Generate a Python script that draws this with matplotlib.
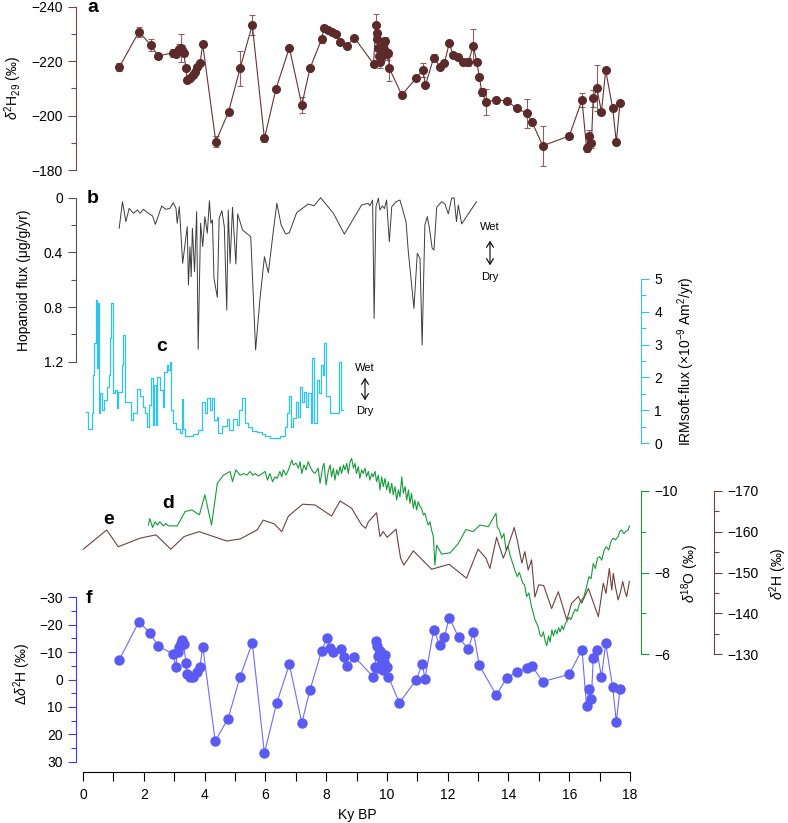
import matplotlib
matplotlib.use('Agg')
from matplotlib import pyplot as plt

W, H = 788, 823

# (a) leaf wax dD, Ky BP / permil / error
a_age = [1.19, 1.84, 2.23, 2.48, 2.97, 3.05, 3.11, 3.17, 3.22, 3.27, 3.31, 3.39, 3.43, 3.52, 3.61,
         3.69, 3.76, 3.85, 3.94, 4.37, 4.79, 5.17, 5.57, 5.97, 6.35, 6.79, 7.20, 7.47, 7.85, 7.93,
         8.07, 8.18, 8.34, 8.46, 8.68, 8.93, 9.56, 9.64, 9.66, 9.68, 9.71, 9.74, 9.77, 9.83, 9.87,
         9.90, 9.94, 9.99, 10.05, 10.08, 10.49, 10.96, 11.18, 11.27, 11.54, 11.75, 11.89, 12.05,
         12.18, 12.35, 12.51, 12.68, 12.84, 12.96, 13.04, 13.12, 13.26, 13.60, 13.94, 14.27, 14.61,
         14.78, 15.13, 16.00, 16.42, 16.57, 16.64, 16.73, 16.79, 16.91, 17.06, 17.20, 17.43, 17.55,
         17.67]
a_val = [-217.7, -230.8, -225.9, -221.9, -223.1, -222.5, -223.8, -224.3, -224.8, -224.1, -223.0,
         -217.4, -213.1, -213.9, -214.9, -216.1, -218.0, -219.2, -226.2, -190.4, -201.4, -217.4,
         -233.3, -191.6, -209.8, -224.9, -203.9, -217.4, -228.0, -232.1, -231.4, -230.8, -230.0,
         -227.1, -225.6, -228.6, -219.0, -233.3, -230.5, -228.0, -225.0, -221.8, -219.5, -222.0,
         -226.0, -224.5, -227.5, -222.5, -223.0, -217.4, -207.6, -213.7, -216.7, -211.2, -221.3,
         -218.0, -219.2, -226.5, -222.3, -221.4, -219.6, -219.6, -225.7, -219.7, -214.3, -208.8,
         -205.1, -205.7, -205.4, -202.7, -200.8, -197.5, -188.9, -192.5, -205.7, -188.2, -192.6,
         -190.0, -206.3, -210.0, -201.4, -216.6, -202.7, -190.2, -204.6]
a_err = [1.5, 1.8, 2.2, 1.0, 1.5, 1.0, 1.0, 2.0, 5.0, 2.0, 1.0, 1.2, 1.2, 1.0, 1.0, 1.0, 1.0, 1.0,
         0.6, 2.0, 0.6, 6.5, 3.8, 1.2, 0.5, 0.5, 3.0, 0.5, 1.2, 1.0, 0.8, 0.8, 0.8, 0.8, 0.5, 0.5,
         1.2, 4.0, 2.0, 3.0, 5.5, 3.0, 2.0, 2.0, 2.5, 2.0, 1.5, 2.0, 1.0, 4.6, 1.0, 0.5, 2.6, 0.8,
         1.2, 0.6, 0.6, 1.0, 0.5, 1.0, 1.0, 1.5, 6.0, 1.0, 1.0, 1.5, 4.8, 1.0, 0.5, 0.5, 5.2, 1.0,
         7.4, 1.0, 2.5, 1.5, 2.0, 2.0, 3.0, 8.4, 1.0, 0.8, 0.5, 1.0, 0.5]

# (b) hopanoid flux
b_age = [1.19, 1.30, 1.41, 1.52, 1.66, 1.79, 1.88, 1.99, 2.15, 2.29, 2.38, 2.59, 2.72, 2.86, 2.97,
         3.06, 3.10, 3.17, 3.28, 3.43, 3.47, 3.52, 3.56, 3.60, 3.67, 3.74, 3.79, 3.87, 3.94, 4.01,
         4.09, 4.16, 4.21, 4.26, 4.31, 4.42, 4.48, 4.57, 4.65, 4.73, 4.78, 4.84, 4.92, 5.03, 5.09,
         5.25, 5.52, 5.68, 5.82, 5.97, 6.10, 6.26, 6.38, 6.52, 6.67, 6.79, 7.03, 7.41, 7.60, 7.82,
         8.24, 8.60, 9.17, 9.39, 9.44, 9.53, 9.58, 9.64, 9.72, 9.77, 9.85, 9.92, 9.99, 10.08, 10.16,
         10.30, 10.43, 10.63, 10.70, 10.89, 11.00, 11.09, 11.16, 11.25, 11.33, 11.40, 11.49, 11.55,
         11.64, 11.80, 11.91, 12.02, 12.13, 12.21, 12.29, 12.35, 12.46, 12.95]
b_val = [0.224, 0.029, 0.175, 0.078, 0.114, 0.09, 0.114, 0.085, 0.114, 0.134, 0.195, 0.061, 0.085,
         0.078, 0.037, 0.078, 0.187, 0.066, 0.48, 0.212, 0.639, 0.358, 0.578, 0.224, 0.541, 0.102,
         1.109, 0.187, 0.358, 0.139, 0.26, 0.022, 0.187, 0.163, 0.59, 0.729, 0.151, 0.095, 0.212,
         0.822, 0.09, 0.48, 0.07, 0.485, 0.119, 0.236, 0.285, 1.114, 0.749, 0.432, 0.549, 0.249,
         0.041, 0.2, 0.266, 0.256, 0.11, 0.046, 0.059, 0.0, 0.114, 0.266, 0.053, 0.041, 0.059,
         0.017, 0.883, 0.066, 0.004, 0.09, 0.06, 0.08, 0.017, 0.322, 0.066, 0.03, 0.017, 0.175,
         0.383, 0.81, 0.407, 0.444, 1.078, 0.2, 0.139, 0.224, 0.37, 0.383, 0.07, 0.029, 0.046,
         0.119, 0.004, 0.0, 0.175, 0.053, 0.192, 0.029]

# (c) IRMsoft flux (steps)
c_age = [0.10, 0.175, 0.285, 0.318, 0.373, 0.428, 0.47, 0.504, 0.53, 0.559, 0.614, 0.691, 0.779,
         0.866, 0.89, 0.921, 0.998, 1.053, 1.108, 1.163, 1.272, 1.327, 1.382, 1.579, 1.656, 1.766,
         1.876, 1.985, 2.04, 2.095, 2.172, 2.238, 2.293, 2.348, 2.402, 2.446, 2.534, 2.622, 2.677,
         2.753, 2.808, 2.863, 2.885, 2.972, 3.06, 3.192, 3.247, 3.302, 3.356, 3.631, 3.795, 3.927,
         4.014, 4.069, 4.179, 4.233, 4.31, 4.398, 4.453, 4.562, 4.727, 4.815, 4.947, 5.056, 5.144,
         5.221, 5.331, 5.44, 5.55, 5.715, 5.88, 5.989, 6.153, 6.482, 6.647, 6.723, 6.778, 6.833,
         6.921, 7.009, 7.064, 7.141, 7.195, 7.272, 7.327, 7.415, 7.492, 7.546, 7.612, 7.689, 7.777,
         7.832, 7.887, 7.941, 7.996, 8.128, 8.435, 8.48, 8.567]
c_val = [0.95, 0.42, 0.90, 2.07, 3.04, 4.36, 2.29, 4.27, 0.90, 1.52, 1.00, 1.31, 1.72, 2.07, 3.20,
         4.27, 1.52, 1.62, 1.06, 1.57, 2.38, 3.30, 1.26, 0.70, 0.90, 1.64, 1.42, 1.11, 0.90, 0.50,
         1.16, 1.97, 0.55, 1.77, 0.55, 2.02, 1.62, 1.11, 2.17, 2.38, 2.22, 2.48, 1.01, 0.60, 0.42,
         0.30, 1.34, 0.42, 0.20, 0.26, 0.40, 1.26, 0.90, 1.36, 1.00, 1.36, 0.70, 0.78, 0.30, 0.52,
         0.72, 0.40, 0.72, 0.55, 1.00, 1.36, 0.60, 0.50, 0.36, 0.33, 0.26, 0.20, 0.15, 0.20, 0.48,
         0.90, 1.42, 0.50, 0.76, 1.26, 0.80, 1.72, 1.26, 1.57, 1.11, 1.52, 0.60, 2.58, 0.60, 1.92,
         1.52, 2.38, 2.07, 3.04, 1.42, 0.90, 2.48, 1.00, 1.00]

# (d) speleothem d18O
d_age = [2.15, 2.20, 2.29, 2.37, 2.45, 2.53, 2.64, 2.73, 2.81, 3.10, 3.36, 3.58, 3.83, 4.01, 4.23,
         4.42, 4.62, 4.84, 4.92, 5.03, 5.17, 5.30, 5.39, 5.50, 5.58, 5.66, 5.77, 5.88, 5.99, 6.07,
         6.15, 6.24, 6.32, 6.39, 6.48, 6.54, 6.59, 6.68, 6.76, 6.87, 6.92, 7.01, 7.09, 7.14, 7.20,
         7.27, 7.34, 7.41, 7.47, 7.56, 7.63, 7.74, 7.80, 7.89, 7.93, 8.00, 8.07, 8.13, 8.18, 8.24,
         8.29, 8.35, 8.40, 8.46, 8.51, 8.57, 8.62, 8.68, 8.73, 8.79, 8.84, 8.90, 8.95, 9.00, 9.06,
         9.11, 9.17, 9.22, 9.28, 9.33, 9.39, 9.44, 9.50, 9.55, 9.61, 9.66, 9.72, 9.77, 9.83, 9.88,
         9.94, 9.99, 10.05, 10.10, 10.16, 10.21, 10.27, 10.32, 10.38, 10.43, 10.49, 10.54, 10.60,
         10.65, 10.71, 10.76, 10.81, 10.87, 10.92, 10.98, 11.03, 11.09, 11.14, 11.20, 11.25, 11.31,
         11.36, 11.42, 11.47, 11.53, 11.58, 11.64, 11.80, 12.08, 12.35, 12.60, 12.84, 13.06, 13.34,
         13.59, 13.63, 13.70, 13.78, 13.85, 13.92, 13.98, 14.05, 14.14, 14.21, 14.29, 14.36, 14.47,
         14.53, 14.60, 14.67, 14.76, 14.82, 14.87, 14.93, 14.98, 15.04, 15.09, 15.15, 15.20, 15.26,
         15.32, 15.37, 15.43, 15.48, 15.54, 15.60, 15.65, 15.70, 15.76, 15.81, 15.87, 15.92, 16.00,
         16.06, 16.13, 16.20, 16.27, 16.34, 16.41, 16.48, 16.57, 16.65, 16.72, 16.79, 16.86, 16.93,
         17.00, 17.07, 17.15, 17.22, 17.30, 17.37, 17.44, 17.52, 17.61, 17.66, 17.72, 17.80, 17.86,
         17.94, 17.98]
d_val = [-9.16, -9.32, -9.10, -9.24, -9.16, -9.24, -9.14, -9.20, -9.14, -9.14, -9.49, -9.53, -9.41,
         -9.90, -9.16, -10.18, -10.38, -10.47, -10.22, -10.51, -10.38, -10.42, -10.38, -10.47,
         -10.38, -10.42, -10.36, -10.41, -10.47, -10.26, -10.42, -10.22, -10.34, -10.30, -10.47,
         -10.34, -10.51, -10.38, -10.51, -10.75, -10.63, -10.67, -10.55, -10.71, -10.42, -10.63,
         -10.51, -10.71, -10.59, -10.47, -10.42, -10.55, -10.18, -10.59, -10.67, -10.14, -10.47,
         -10.63, -10.34, -10.55, -10.26, -10.51, -10.38, -10.59, -10.42, -10.63, -10.51, -10.67,
         -10.42, -10.71, -10.79, -10.55, -10.67, -10.42, -10.59, -10.30, -10.51, -10.42, -10.55,
         -10.34, -10.47, -10.26, -10.42, -10.34, -10.47, -10.22, -10.38, -10.02, -10.34, -10.10,
         -10.30, -10.02, -10.22, -9.94, -10.18, -9.90, -10.10, -9.77, -10.02, -9.85, -10.34, -9.94,
         -10.10, -9.77, -10.02, -9.69, -9.94, -9.57, -9.77, -9.53, -9.73, -9.61, -9.57, -9.41,
         -9.45, -9.28, -9.16, -9.24, -9.04, -8.88, -8.18, -8.67, -8.45, -8.48, -8.71, -9.05, -9.00,
         -9.16, -9.12, -9.45, -9.12, -9.04, -8.84, -8.95, -8.55, -8.65, -8.43, -8.22, -8.06, -7.90,
         -8.00, -7.74, -7.70, -7.41, -7.50, -7.16, -7.00, -6.85, -6.76, -6.67, -6.47, -6.43, -6.55,
         -6.35, -6.21, -6.45, -6.30, -6.60, -6.45, -6.60, -6.50, -6.65, -6.55, -6.70, -6.60, -6.75,
         -6.80, -6.90, -6.85, -7.00, -7.10, -7.05, -7.25, -7.33, -7.40, -7.65, -7.90, -7.85, -8.22,
         -8.10, -8.35, -8.39, -8.30, -8.55, -8.63, -8.55, -8.75, -8.84, -8.80, -8.88, -9.00, -9.04,
         -8.95, -9.00, -9.04, -9.14]

# (e) lake dD
e_age = [0.01, 0.78, 1.16, 1.88, 2.40, 2.89, 3.33, 3.82, 4.29, 4.73, 5.17, 5.73, 5.93, 6.29, 6.54,
         6.76, 7.23, 7.64, 8.18, 8.46, 8.84, 9.17, 9.30, 9.39, 9.66, 9.77, 9.88, 10.01, 10.30,
         10.45, 10.56, 10.87, 11.47, 12.05, 12.62, 13.00, 13.26, 13.39, 13.61, 13.83, 14.00, 14.19,
         14.29, 14.44, 14.54, 14.65, 14.76, 14.87, 15.00, 15.16, 15.42, 15.64, 15.92, 16.08, 16.30,
         16.41, 16.63, 16.96, 17.12, 17.21, 17.32, 17.40, 17.45, 17.52, 17.61, 17.68, 17.76, 17.83,
         17.89, 17.98]
e_val = [-155.7, -160.4, -156.3, -158.4, -159.2, -155.7, -158.8, -160.0, -158.8, -157.7, -158.2,
         -160.4, -162.8, -161.9, -160.0, -163.8, -166.7, -166.5, -163.8, -167.5, -165.7, -161.6,
         -160.8, -162.4, -164.6, -158.8, -160.0, -158.6, -160.6, -153.5, -151.8, -155.3, -150.8,
         -152.0, -148.6, -155.7, -153.5, -151.0, -158.6, -153.5, -156.7, -161.0, -157.9, -152.3,
         -155.1, -150.6, -153.1, -144.0, -147.0, -146.8, -141.2, -145.3, -138.4, -142.5, -144.1,
         -142.5, -146.1, -139.2, -147.4, -144.9, -151.0, -145.7, -149.8, -146.5, -143.3, -145.0,
         -147.8, -145.5, -144.1, -147.8]

# (f) delta dD
f_age = [1.19, 1.84, 2.21, 2.47, 2.97, 3.05, 3.11, 3.17, 3.22, 3.27, 3.31, 3.39, 3.41, 3.52, 3.61,
         3.74, 3.85, 3.94, 4.35, 4.77, 5.17, 5.57, 5.97, 6.37, 6.79, 7.20, 7.47, 7.85, 8.03, 8.13,
         8.24, 8.48, 8.60, 8.68, 8.93, 9.55, 9.62, 9.64, 9.67, 9.71, 9.72, 9.77, 9.83, 9.86, 9.90,
         9.94, 9.99, 10.05, 10.41, 10.96, 11.17, 11.25, 11.54, 11.74, 11.89, 12.05, 12.36, 12.68,
         12.85, 13.04, 13.60, 13.94, 14.27, 14.61, 14.78, 15.13, 16.00, 16.42, 16.57, 16.64, 16.73,
         16.79, 16.91, 17.06, 17.20, 17.43, 17.55, 17.67]
f_val = [-7.1, -21.1, -16.9, -12.2, -9.3, -4.5, -10.1, -12.0, -13.4, -14.3, -12.9, -6.1, -1.9,
         -0.8, -1.0, -2.8, -4.7, -12.0, 22.4, 14.4, -1.0, -13.4, 26.9, 8.7, -5.5, 15.8, 3.8, -10.4,
         -15.3, -11.4, -10.1, -11.0, -8.3, -4.9, -8.3, -1.0, -4.5, -14.2, -12.2, -8.6, -4.1, -10.5,
         -6.5, -3.5, -6.5, -9.1, -4.5, -1.0, 8.5, 0.2, -5.7, -0.1, -18.1, -12.6, -15.4, -22.6,
         -15.4, -11.1, -17.3, -5.2, 5.7, -0.5, -2.7, -4.2, -4.8, 0.8, -1.9, -10.9, 9.7, 3.6, 7.1,
         -7.8, -10.9, -0.9, -13.2, 2.8, 15.4, 3.5]

plt.rcParams['font.family'] = ['Liberation Sans', 'DejaVu Sans']
plt.rcParams['mathtext.fontset'] = 'custom'
plt.rcParams['mathtext.rm'] = 'Liberation Sans'
plt.rcParams['mathtext.it'] = 'Liberation Sans:italic'
plt.rcParams['font.size'] = 10
plt.rcParams['axes.linewidth'] = 0.8

fig = plt.figure(figsize=(W / 100, H / 100), dpi=100)


def panel(top, bottom, side, color, offset, ylim, major, minor):
    ax = fig.add_axes([83 / W, 1 - bottom / H, 547 / W, (bottom - top) / H])
    ax.patch.set_alpha(0)
    for s in ['left', 'right', 'top', 'bottom']:
        ax.spines[s].set_visible(s == side)
    ax.spines[side].set_color(color)
    ax.spines[side].set_position(('outward', offset))
    ax.set_xlim(0, 18)
    ax.set_ylim(*ylim)
    ax.set_xticks([])
    ax.yaxis.set_ticks_position(side)
    ax.set_yticks(major)
    ax.set_yticks(minor, minor=True)
    ax.tick_params(axis='y', which='both', color=color, direction='out', width=0.8)
    ax.tick_params(axis='y', which='major', length=6)
    ax.tick_params(axis='y', which='minor', length=3.5)
    return ax


def px(x, y):
    return x / W, 1 - y / H


# a
ax_a = panel(6.7, 170, 'left', '#7a4545', 5, (-180, -240), [-240, -220, -200, -180], [-230, -210, -190])
ax_a.errorbar(a_age, a_val, yerr=a_err, fmt='-o', color='#6a3232', mfc='#5c2a2a', mec='#5c2a2a',
              ecolor='#8e6060', elinewidth=0.8, capsize=2.5, capthick=0.8, lw=0.8, ms=5.5, clip_on=False)

# b
ax_b = panel(197.7, 361.7, 'left', '#555555', 5, (1.2, 0), [0, 0.4, 0.8, 1.2], [0.2, 0.6, 1.0])
ax_b.set_yticklabels(['0', '0.4', '0.8', '1.2'])
ax_b.plot(b_age, b_val, color='#3c3c3c', lw=0.7, clip_on=False)

# c
ax_c = panel(279, 443, 'right', '#2cc4f0', 8, (0, 5), [0, 1, 2, 3, 4, 5], [0.5, 1.5, 2.5, 3.5, 4.5])
ax_c.step(c_age, c_val, where='post', color='#2cc4f0', lw=0.9)

# d and e
ax_d = panel(490.7, 654.3, 'right', '#1a9b3c', 8, (-6, -10), [-10, -8, -6], [-9, -7])
ax_d.plot(d_age, d_val, color='#179b3b', lw=0.8, clip_on=False)
ax_e = panel(490.7, 654.3, 'right', '#714040', 60.5, (-130, -170), [-170, -160, -150, -140, -130],
             [-165, -155, -145, -135])
ax_e.plot(e_age, e_val, color='#714040', lw=0.8, clip_on=False)

# f
ax_f = panel(597.3, 761.7, 'left', '#3b3bff', 5, (30, -30), [-30, -20, -10, 0, 10, 20, 30],
             [-25, -15, -5, 5, 15, 25])
ax_f.plot(f_age, f_val, '-o', color='#6b6bff', mfc='#5b5bf3', mec='#5b5bf3', lw=0.8, ms=6.5,
          clip_on=False)
ax_f.spines['bottom'].set_visible(True)
ax_f.spines['bottom'].set_position(('outward', 7.4))
ax_f.spines['bottom'].set_color('black')
ax_f.set_xticks(range(0, 19, 2))
ax_f.set_xticks(range(1, 19, 2), minor=True)
ax_f.tick_params(axis='x', which='both', direction='out', length=6.5, width=0.8, pad=5)

# panel letters
for letter, x, y in [('a', 87, 12), ('b', 87, 203), ('c', 156, 351), ('d', 162, 508),
                     ('e', 103, 524), ('f', 86, 603)]:
    fig.text(*px(x, y), letter, fontsize=14, fontweight='bold', ha='left', va='baseline')

# axis labels
fig.text(*px(13, 88), r'$\delta^{2}$H$_{29}$ (‰)', rotation=90, ha='center', va='center')
fig.text(*px(24, 280), 'Hopanoid flux (μg/g/yr)', rotation=90, ha='center', va='center')
fig.text(*px(22, 674), r'Δ$\delta^{2}$H (‰)', rotation=90, ha='center', va='center')
fig.text(*px(686, 361), r'IRMsoft-flux ($\times$10$^{-9}$ Am$^{2}$/yr)', rotation=90,
         ha='center', va='center')
fig.text(*px(690, 574), r'$\delta^{18}$O (‰)', rotation=90, ha='center', va='center')
fig.text(*px(778, 574), r'$\delta^{2}$H (‰)', rotation=90, ha='center', va='center')
fig.text(*px(357, 815), 'Ky BP', ha='center', va='center')

# wet / dry arrows
for x, y_wet, y0, y1, y_dry in [(490, 227, 238, 268, 277), (365, 368, 375, 403, 411)]:
    fig.text(*px(x, y_wet), 'Wet', fontsize=8, ha='center', va='center')
    fig.text(*px(x, y_dry), 'Dry', fontsize=8, ha='center', va='center')
    fig.add_artist(matplotlib.patches.FancyArrowPatch(px(x, y0), px(x, y1), transform=fig.transFigure,
                                                      arrowstyle='<->,head_length=4,head_width=2.5',
                                                      lw=0.8, color='black'))

fig.savefig('out.png', dpi=100)
